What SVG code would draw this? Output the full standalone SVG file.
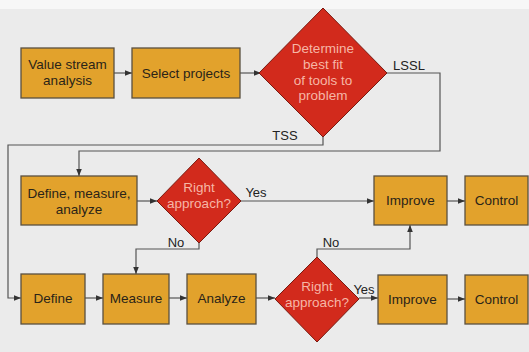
<svg xmlns="http://www.w3.org/2000/svg" width="529" height="352" viewBox="0 0 529 352">
<style>
.box{fill:#e2a22c;stroke:#5a5040;stroke-width:1.3}
.dia{fill:#d22a1c;stroke:#7a1a10;stroke-width:1}
.bt{font-family:"Liberation Sans",Arial,sans-serif;font-size:13.5px;fill:#2a2418;text-anchor:middle}
.dt{font-family:"Liberation Sans",Arial,sans-serif;font-size:13.5px;fill:#f6b6a6;text-anchor:middle}
.lb{font-family:"Liberation Sans",Arial,sans-serif;font-size:13px;fill:#222;text-anchor:middle}
.ln{fill:none;stroke:#555;stroke-width:1.2}
</style>
<defs>
<marker id="ah" viewBox="0 0 10 10" refX="10" refY="5" markerWidth="7" markerHeight="7" markerUnits="userSpaceOnUse" orient="auto">
<path d="M0,1 L10,5 L0,9 Z" fill="#333"/>
</marker>
</defs>
<rect x="0" y="0" width="529" height="352" fill="#ebebeb"/>
<rect x="0" y="0" width="529" height="9" fill="#f7f7f7"/>
<g id="connectors">
<path class="ln" d="M114,73 H132" marker-end="url(#ah)"/>
<path class="ln" d="M240,73 H261" marker-end="url(#ah)"/>
<path class="ln" d="M323,137 V145 H8 V298 H21" marker-end="url(#ah)"/>
<path class="ln" d="M387,73 H440 V151 H79 V176" marker-end="url(#ah)"/>
<path class="ln" d="M137,201 H157" marker-end="url(#ah)"/>
<path class="ln" d="M241,201 H374" marker-end="url(#ah)"/>
<path class="ln" d="M199,243 V249 H136 V274" marker-end="url(#ah)"/>
<path class="ln" d="M85,298 H103" marker-end="url(#ah)"/>
<path class="ln" d="M169,298 H187" marker-end="url(#ah)"/>
<path class="ln" d="M256,298 H275" marker-end="url(#ah)"/>
<path class="ln" d="M359,298 H378" marker-end="url(#ah)"/>
<path class="ln" d="M317,257 V249 H410 V225" marker-end="url(#ah)"/>
<path class="ln" d="M447,201 H465" marker-end="url(#ah)"/>
<path class="ln" d="M447,299 H465" marker-end="url(#ah)"/>
<text class="lb" x="409" y="70">LSSL</text>
<text class="lb" x="285" y="140">TSS</text>
<text class="lb" x="256" y="197">Yes</text>
<text class="lb" x="176" y="247">No</text>
<text class="lb" x="331" y="247">No</text>
<text class="lb" x="364" y="294">Yes</text>
</g>
<g id="vsa"><rect class="box" x="21" y="48" width="93" height="50"/><text class="bt" x="67.5" y="69">Value stream</text><text class="bt" x="67.5" y="85">analysis</text></g>
<g id="select"><rect class="box" x="132" y="48" width="108" height="50"/><text class="bt" x="186" y="78">Select projects</text></g>
<g id="determine"><polygon class="dia" points="323,8 387,73 323,137 259,73"/><text class="dt" x="323" y="53">Determine</text><text class="dt" x="323" y="69">best fit</text><text class="dt" x="323" y="85">of tools to</text><text class="dt" x="323" y="100">problem</text></g>
<g id="dma"><rect class="box" x="21" y="176" width="116" height="49"/><text class="bt" x="79" y="198">Define, measure,</text><text class="bt" x="79" y="214">analyze</text></g>
<g id="right1"><polygon class="dia" points="199,158 241,201 199,243 157,201"/><text class="dt" x="199" y="192">Right</text><text class="dt" x="199" y="208">approach?</text></g>
<g id="improve1"><rect class="box" x="374" y="176" width="73" height="49"/><text class="bt" x="410.5" y="205">Improve</text></g>
<g id="control1"><rect class="box" x="465" y="176" width="63" height="49"/><text class="bt" x="496.5" y="205">Control</text></g>
<g id="define"><rect class="box" x="21" y="274" width="64" height="50"/><text class="bt" x="53" y="303">Define</text></g>
<g id="measure"><rect class="box" x="103" y="274" width="66" height="50"/><text class="bt" x="136" y="303">Measure</text></g>
<g id="analyze"><rect class="box" x="187" y="274" width="69" height="50"/><text class="bt" x="221.5" y="303">Analyze</text></g>
<g id="right2"><polygon class="dia" points="317,257 359,299 317,342 275,299"/><text class="dt" x="317" y="291">Right</text><text class="dt" x="317" y="307">approach?</text></g>
<g id="improve2"><rect class="box" x="378" y="275" width="69" height="49"/><text class="bt" x="412.5" y="304">Improve</text></g>
<g id="control2"><rect class="box" x="465" y="275" width="63" height="49"/><text class="bt" x="496.5" y="304">Control</text></g>
</svg>
